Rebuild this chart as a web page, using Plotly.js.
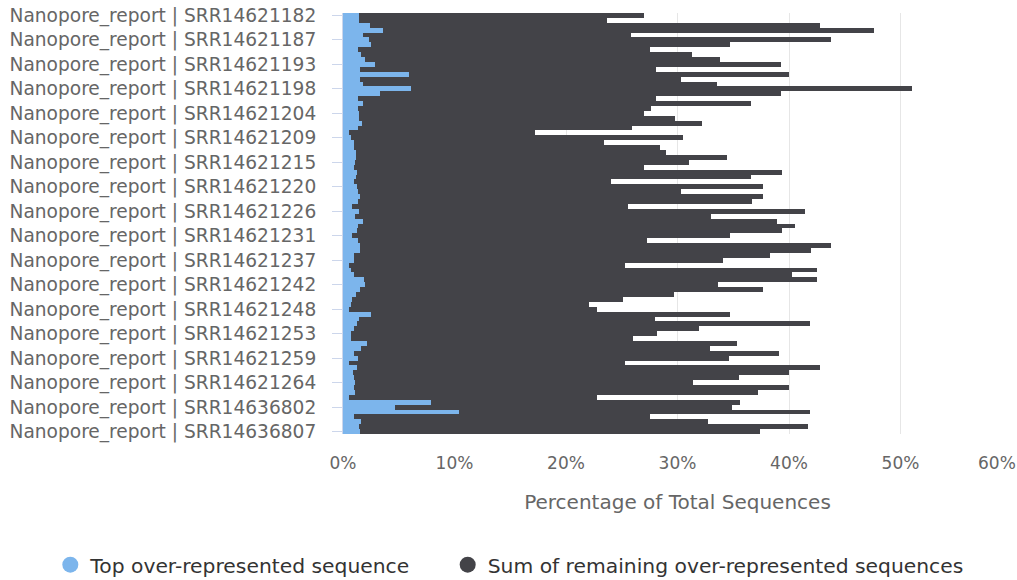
<!DOCTYPE html>
<html>
<head>
<meta charset="utf-8">
<script src="https://cdn.plot.ly/plotly-3.0.1.min.js"></script>
<style>html,body{margin:0;padding:0;background:#fff;}#chart{width:1017px;height:580px;}</style>
</head>
<body>
<div id="chart"></div>
<script>
// Sample IDs (top to bottom)
const sampleIds = [
  'SRR14621182','SRR14621183','SRR14621184','SRR14621185','SRR14621186',
  'SRR14621187','SRR14621188','SRR14621189','SRR14621190','SRR14621191',
  'SRR14621193','SRR14621194','SRR14621195','SRR14621196','SRR14621197',
  'SRR14621198','SRR14621199','SRR14621200','SRR14621201','SRR14621202',
  'SRR14621204','SRR14621205','SRR14621206','SRR14621207','SRR14621208',
  'SRR14621209','SRR14621210','SRR14621211','SRR14621212','SRR14621213',
  'SRR14621215','SRR14621216','SRR14621217','SRR14621218','SRR14621219',
  'SRR14621220','SRR14621221','SRR14621222','SRR14621223','SRR14621224',
  'SRR14621226','SRR14621227','SRR14621228','SRR14621229','SRR14621230',
  'SRR14621231','SRR14621232','SRR14621233','SRR14621234','SRR14621235',
  'SRR14621237','SRR14621238','SRR14621239','SRR14621240','SRR14621241',
  'SRR14621242','SRR14621243','SRR14621244','SRR14621245','SRR14621246',
  'SRR14621248','SRR14621249','SRR14621250','SRR14621251','SRR14621252',
  'SRR14621253','SRR14621254','SRR14621255','SRR14621256','SRR14621257',
  'SRR14621259','SRR14621260','SRR14621261','SRR14621262','SRR14621263',
  'SRR14621264','SRR14621265','SRR14621266','SRR14621267','SRR14621268',
  'SRR14636802','SRR14636803','SRR14636804','SRR14636805','SRR14636806',
  'SRR14636807'
];
const samplePrefix = 'Nanopore_report | ';

// Tick labels shown on the category axis
const tickSampleIds = [
  'SRR14621182','SRR14621187','SRR14621193','SRR14621198','SRR14621204',
  'SRR14621209','SRR14621215','SRR14621220','SRR14621226','SRR14621231',
  'SRR14621237','SRR14621242','SRR14621248','SRR14621253','SRR14621259',
  'SRR14621264','SRR14636802','SRR14636807'
];

// Top over-represented sequence (% of total sequences)
const topSeq = [
  1.4,1.4,2.4,3.6,1.8,2.3,2.5,1.3,1.6,2.0,
  2.9,1.5,5.9,1.5,1.8,6.1,3.3,1.3,1.8,1.35,
  1.4,1.4,1.7,1.35,0.5,0.75,1.0,1.0,1.15,1.15,
  1.1,1.0,1.25,1.2,1.0,1.25,1.35,1.5,1.35,0.8,
  1.4,1.1,1.75,1.3,1.25,0.8,1.35,1.5,1.55,1.0,
  1.0,0.5,0.75,1.0,1.9,2.0,1.55,1.15,0.8,0.7,
  0.55,2.5,1.4,1.25,1.0,0.75,0.7,2.15,1.6,1.0,
  1.3,0.5,1.25,0.9,1.0,1.1,1.0,1.1,0.55,7.9,
  4.7,10.4,1.0,1.6,1.4,1.5
];

// Sum of remaining over-represented sequences (% of total sequences)
const remainingSeq = [
  25.6,22.3,40.4,44.0,24.0,41.5,32.2,26.2,29.7,31.8,
  36.4,26.6,34.1,28.8,31.7,44.9,36.0,26.8,34.8,26.25,
  25.6,28.4,30.5,24.55,16.7,29.75,22.4,27.4,27.85,33.25,
  29.9,26.0,38.15,35.4,23.0,36.45,28.95,36.2,35.35,24.8,
  40.0,31.9,37.15,39.2,38.15,33.9,25.95,42.3,40.45,37.3,
  33.1,24.8,41.75,39.3,40.6,31.6,36.15,28.55,24.3,21.4,
  22.25,32.2,26.6,40.65,30.9,27.45,25.3,33.15,31.3,38.1,
  33.3,24.8,41.55,39.1,34.5,30.3,39.0,36.1,22.25,27.7,
  30.2,31.5,26.5,31.1,40.3,35.9
];

const xTickVals = [0,10,20,30,40,50,60];
const xTickText = ['0%','10%','20%','30%','40%','50%',''];
const lastXTickText = '60%';

const seriesNames = ['Top over-represented sequence','Sum of remaining over-represented sequences'];
const seriesColors = ['#7cb5ec','#434348'];

const cats = sampleIds.map(s => samplePrefix + s);
const tickCats = tickSampleIds.map(s => samplePrefix + s);

const FONT = 'DejaVu Sans, sans-serif';

const traces = [
  {type:'bar', orientation:'h', name:seriesNames[0], y:cats, x:topSeq,
   marker:{color:seriesColors[0], line:{width:0}}, showlegend:false},
  {type:'bar', orientation:'h', name:seriesNames[1], y:cats, x:remainingSeq,
   marker:{color:seriesColors[1], line:{width:0}}, showlegend:false},
  {type:'scatter', mode:'markers', name:seriesNames[0], x:[null], y:[null],
   marker:{color:seriesColors[0], size:17, symbol:'circle'}, showlegend:true, legend:'legend', hoverinfo:'skip'},
  {type:'scatter', mode:'markers', name:seriesNames[1], x:[null], y:[null],
   marker:{color:seriesColors[1], size:17, symbol:'circle'}, showlegend:true, legend:'legend2', hoverinfo:'skip'}
];

const legendFont = {family:FONT, size:20.3, color:'#333333'};

const layout = {
  width:1017, height:580,
  margin:{l:343, r:5, t:13, b:146, autoexpand:false},
  paper_bgcolor:'#ffffff', plot_bgcolor:'#ffffff',
  barmode:'stack', bargap:0,
  font:{family:FONT, color:'#666666'},
  xaxis:{
    range:[0,60], tickmode:'array', tickvals:xTickVals, ticktext:xTickText,
    showgrid:true, gridcolor:'#e6e6e6', gridwidth:1, zeroline:false, showline:false,
    ticks:'outside', ticklen:14, tickcolor:'rgba(0,0,0,0)',
    tickfont:{family:FONT, size:17, color:'#666666'},
    title:{text:'Percentage of Total Sequences', font:{family:FONT, size:20, color:'#666666'}, standoff:22},
    fixedrange:true
  },
  yaxis:{
    type:'category', categoryorder:'array', categoryarray:cats, autorange:'reversed',
    tickmode:'array', tickvals:tickCats, ticktext:tickCats,
    ticks:'outside', ticklen:10, tickcolor:'#ccd6eb', tickwidth:1,
    showline:true, linecolor:'#ccd6eb', linewidth:1,
    showgrid:false, zeroline:false,
    ticklabelstandoff:12,
    tickfont:{family:FONT, size:18.6, color:'#666666'},
    fixedrange:true
  },
  legend:{orientation:'h', xref:'paper', yref:'paper', x:-0.4375, xanchor:'left',
    y:-0.311, yanchor:'middle', font:legendFont, itemsizing:'trace'},
  legend2:{orientation:'h', xref:'paper', yref:'paper', x:0.1565, xanchor:'left',
    y:-0.311, yanchor:'middle', font:legendFont, itemsizing:'trace'},
  annotations:[{
    xref:'x', yref:'paper', x:60, y:0, xanchor:'right', yanchor:'top',
    text:lastXTickText, showarrow:false, xshift:6, yshift:-17,
    font:{family:FONT, size:17, color:'#666666'}
  }]
};

Plotly.newPlot('chart', traces, layout, {displayModeBar:false, staticPlot:true});
</script>
</body>
</html>
